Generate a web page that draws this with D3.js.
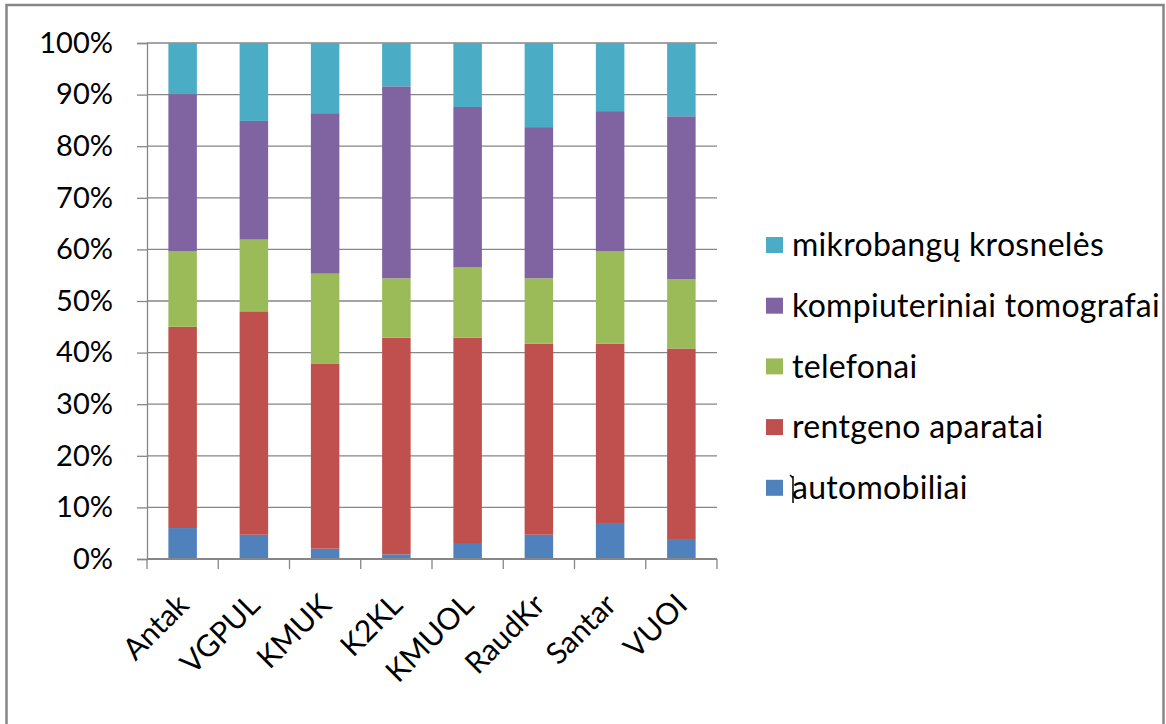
<!DOCTYPE html>
<html>
<head>
<meta charset="utf-8">
<script src="https://cdn.jsdelivr.net/npm/d3@7"></script>
<style>
  body { margin: 0; background: #fff; }
  text { font-family: Lato, "Noto Sans", sans-serif; fill: #000; }
</style>
</head>
<body>
<div id="chart"></div>
<script>
// Categories (hospitals) and series, bottom of stack first
const categories = ['Antak', 'VGPUL', 'KMUK', 'K2KL', 'KMUOL', 'RaudKr', 'Santar', 'VUOI'];
const seriesNames = ['automobiliai', 'rentgeno aparatai', 'telefonai', 'kompiuteriniai tomografai', 'mikrobangų krosnelės'];
const seriesColors = ['#4F81BD', '#C0504D', '#9BBB59', '#8064A2', '#4BACC6'];

// Shares in percent
const automobiliai = [6.0, 4.7, 2.0, 0.9, 3.1, 4.7, 6.8, 3.7];
const rentgeno = [39.0, 43.3, 35.9, 42.0, 39.8, 37.0, 34.9, 37.1];
const telefonai = [14.6, 13.9, 17.4, 11.5, 13.6, 12.7, 17.9, 13.4];
const kompiuteriniai = [30.5, 23.0, 31.1, 37.2, 31.1, 29.3, 27.2, 31.6];
const mikrobangu = [9.9, 15.1, 13.6, 8.4, 12.4, 16.3, 13.2, 14.2];

const yTicks = [0, 0.1, 0.2, 0.3, 0.4, 0.5, 0.6, 0.7, 0.8, 0.9, 1];

const W = 1166, H = 724;
const plot = { left: 147, right: 717, top: 43, bottom: 559 };
const grey = '#868686';

const svg = d3.select('#chart').append('svg')
    .attr('width', W)
    .attr('height', H);

// outer frame
svg.append('rect')
    .attr('x', 6.5).attr('y', 5)
    .attr('width', 1157).attr('height', 740)
    .attr('fill', 'none')
    .attr('stroke', grey)
    .attr('stroke-width', 2.5);

const table = categories.map((c, i) => ({
    cat: c,
    s0: automobiliai[i], s1: rentgeno[i], s2: telefonai[i], s3: kompiuteriniai[i], s4: mikrobangu[i]
}));
const keys = ['s0', 's1', 's2', 's3', 's4'];
const stacked = d3.stack().keys(keys).offset(d3.stackOffsetExpand)(table);

const x = d3.scaleBand()
    .domain(categories)
    .range([plot.left, plot.right])
    .paddingInner(0.6)
    .paddingOuter(0.3);

const y = d3.scaleLinear()
    .domain([0, 1])
    .range([plot.bottom, plot.top]);

// gridlines
svg.append('g')
    .selectAll('line')
    .data(yTicks)
    .join('line')
    .attr('x1', plot.left).attr('x2', plot.right)
    .attr('y1', d => y(d)).attr('y2', d => y(d))
    .attr('stroke', grey)
    .attr('stroke-width', 1.3);

// y axis
const yAxis = d3.axisLeft(y)
    .tickValues(yTicks)
    .tickSize(10)
    .tickPadding(24)
    .tickFormat(d3.format('.0%'));

const yg = svg.append('g')
    .attr('transform', `translate(${plot.left},0)`)
    .call(yAxis);
yg.select('.domain').attr('stroke', grey).attr('stroke-width', 1.3);
yg.selectAll('.tick line').attr('stroke', grey).attr('stroke-width', 1.3);
yg.selectAll('.tick text')
    .attr('font-size', 29)
    .attr('font-family', 'Lato, sans-serif');

// bars
svg.append('g')
    .selectAll('g')
    .data(stacked)
    .join('g')
    .attr('fill', (d, i) => seriesColors[i])
    .selectAll('rect')
    .data(d => d)
    .join('rect')
    .attr('x', d => x(d.data.cat))
    .attr('width', x.bandwidth())
    .attr('y', d => y(d[1]))
    .attr('height', d => y(d[0]) - y(d[1]));

// x axis line and ticks between categories
const step = x.step();
const boundaries = d3.range(categories.length + 1).map(i => plot.left + i * step);
svg.append('line')
    .attr('x1', plot.left).attr('x2', plot.right)
    .attr('y1', plot.bottom).attr('y2', plot.bottom)
    .attr('stroke', grey).attr('stroke-width', 2);
svg.append('g')
    .selectAll('line')
    .data(boundaries)
    .join('line')
    .attr('x1', d => d).attr('x2', d => d)
    .attr('y1', plot.bottom).attr('y2', plot.bottom + 10)
    .attr('stroke', grey).attr('stroke-width', 1.3);

// x labels rotated -45
svg.append('g')
    .selectAll('text')
    .data(categories)
    .join('text')
    .attr('transform', d => `translate(${x(d) + x.bandwidth() / 2 - 7},${plot.bottom + 33}) rotate(-45)`)
    .attr('text-anchor', 'end')
    .attr('dy', '0.7em')
    .attr('font-size', 30)
    .text(d => d);

// legend, top entry is the top of the stack
const legendRows = seriesNames.map((n, i) => ({ name: n, color: seriesColors[i] })).reverse();
const legend = svg.append('g')
    .attr('transform', 'translate(766,245)');
const item = legend.selectAll('g')
    .data(legendRows)
    .join('g')
    .attr('transform', (d, i) => `translate(0,${i * 60.7})`);
item.append('rect')
    .attr('x', 0).attr('y', -8)
    .attr('width', 17).attr('height', 16)
    .attr('fill', d => d.color);
item.append('text')
    .attr('x', 26)
    .attr('dy', '0.35em')
    .attr('font-size', 32)
    .attr('letter-spacing', 0.3)
    .text(d => d.name);

// text cursor left in front of the last legend label
svg.append('path')
    .attr('d', 'M793,476 L793,503 M790,475 L793,478')
    .attr('stroke', '#000')
    .attr('stroke-width', 1.5)
    .attr('fill', 'none');
</script>
</body>
</html>
